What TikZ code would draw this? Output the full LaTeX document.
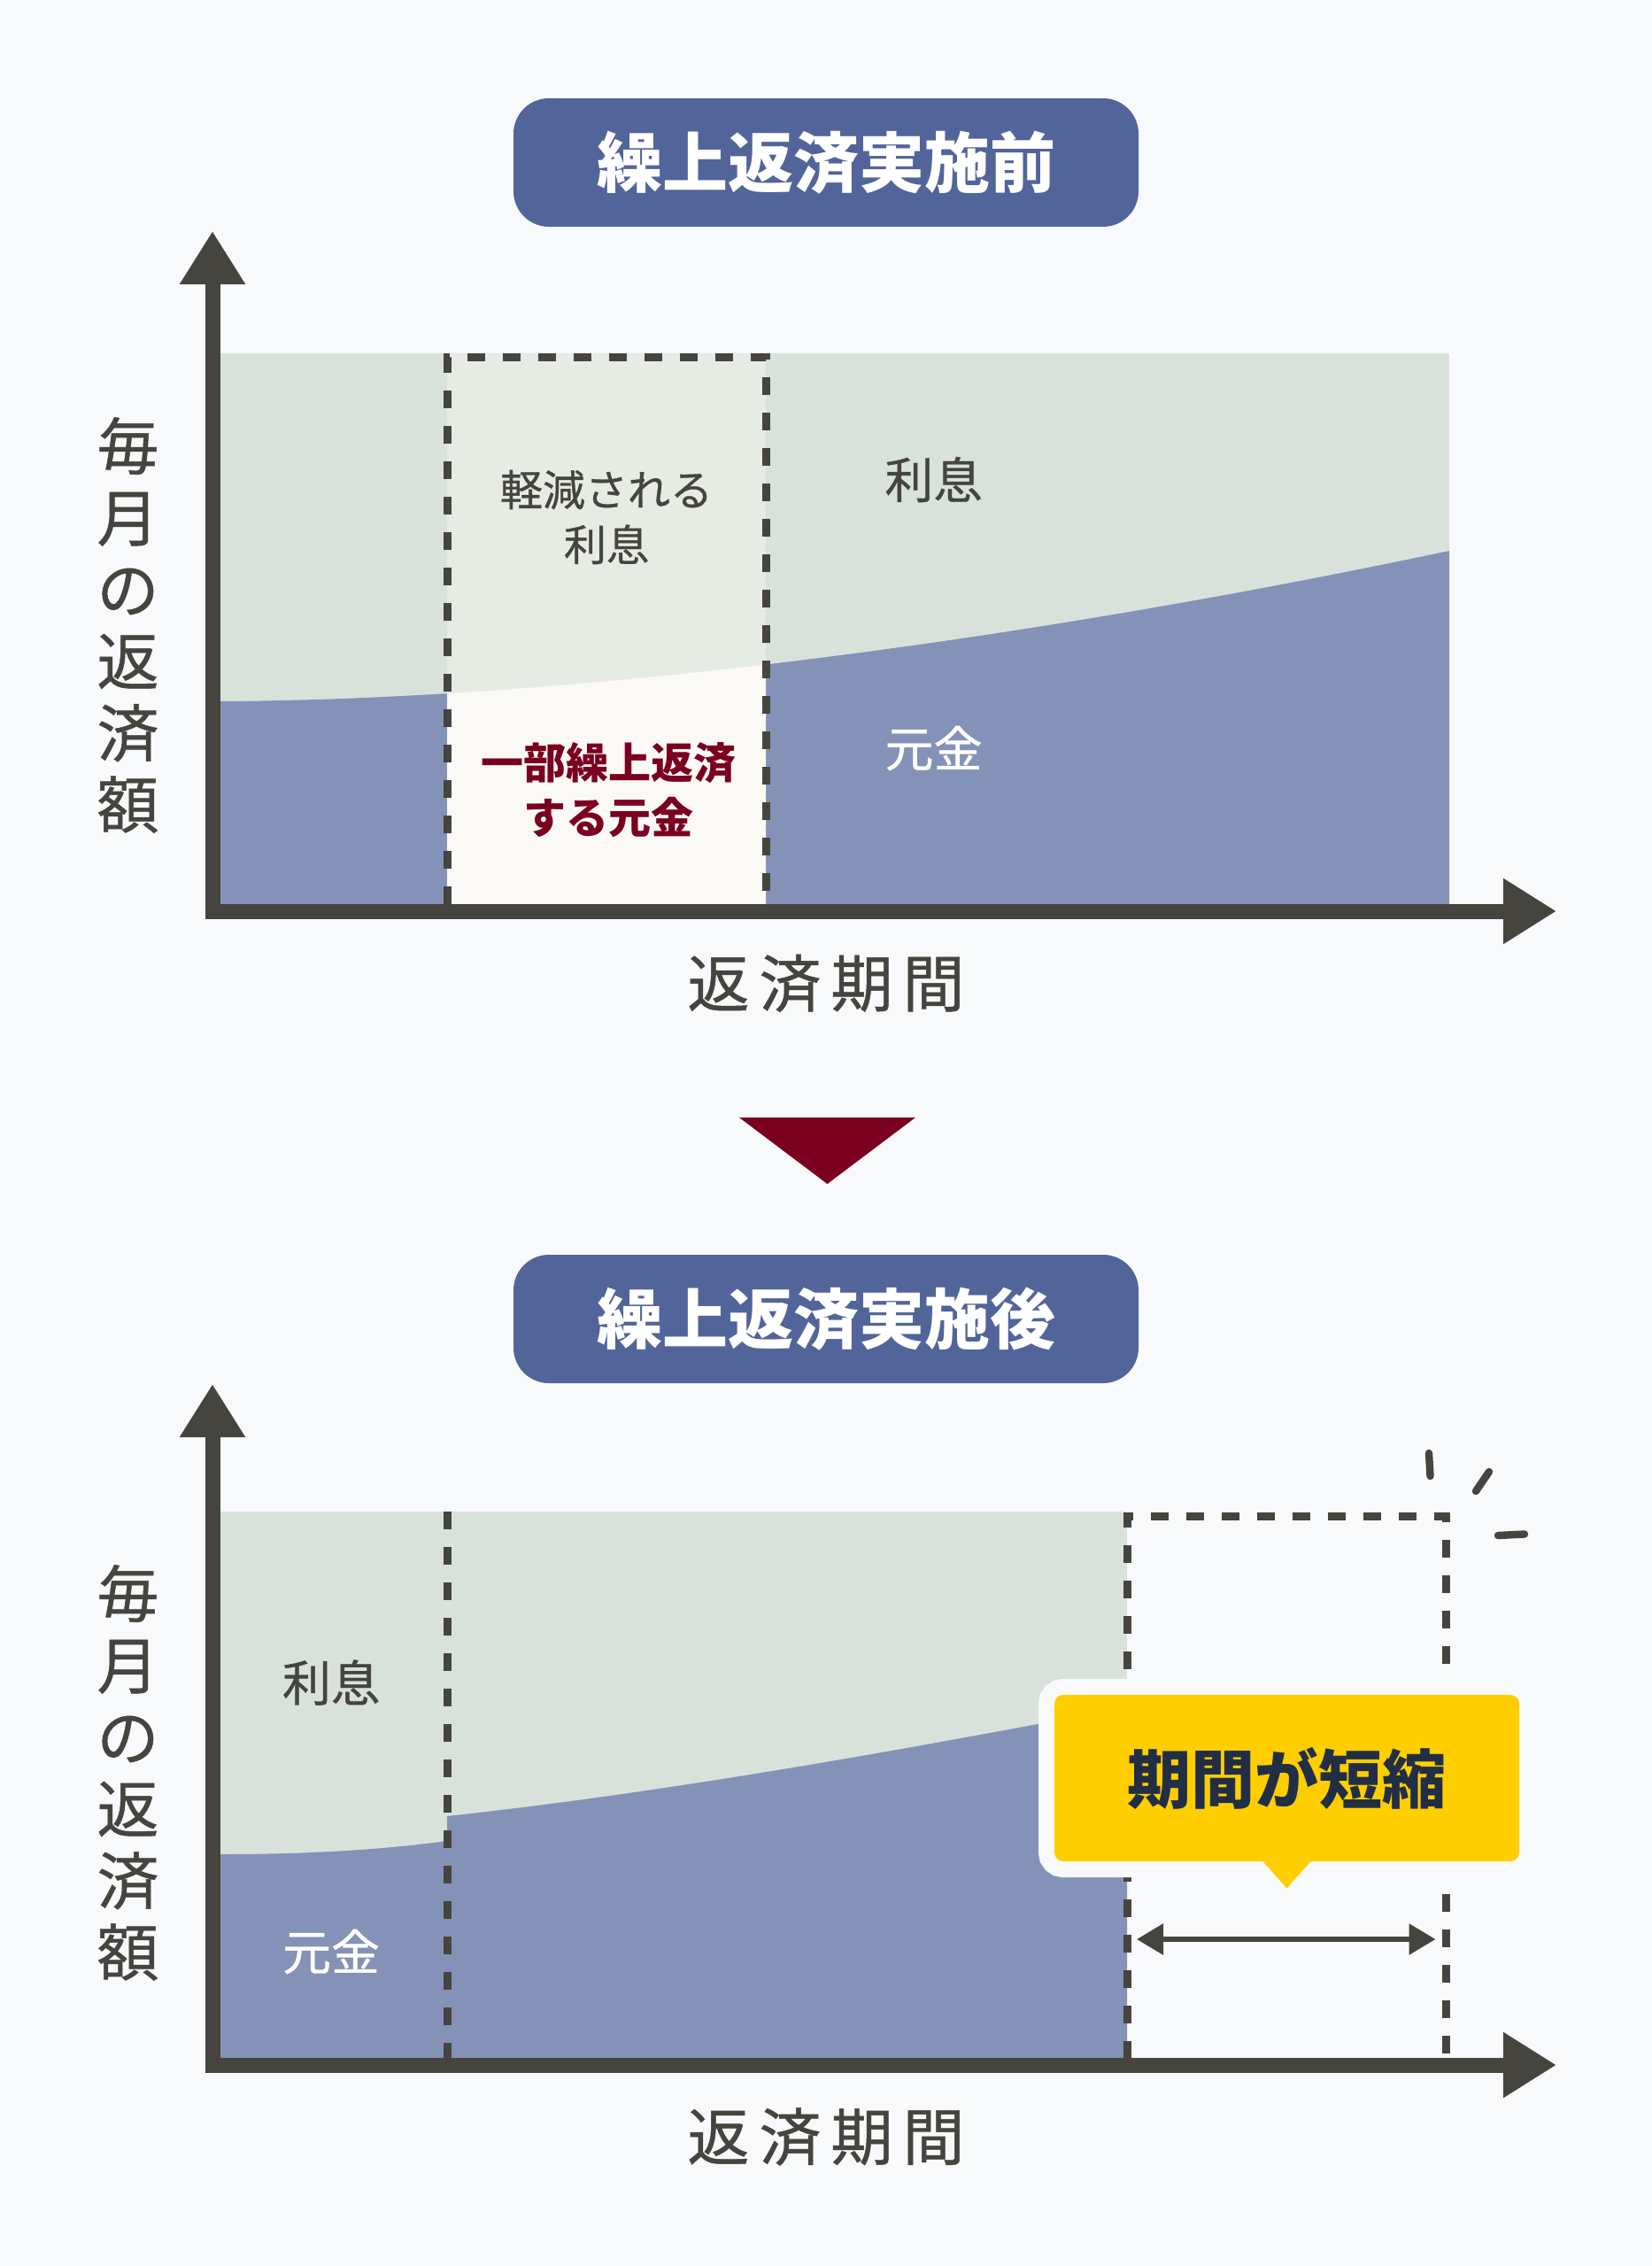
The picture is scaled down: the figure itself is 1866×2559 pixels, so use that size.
\documentclass[tikz,border=0pt]{standalone}
\usepackage{fontspec}
\setmainfont{Noto Sans CJK JP}
\newfontfamily\medfont{Noto Sans CJK JP}[FakeBold=0.7]
\usetikzlibrary{positioning, arrows.meta, calc}
\definecolor{pagebg}{HTML}{F7F9FA}
\definecolor{intfill}{HTML}{D8E2DB}
\definecolor{intlight}{HTML}{E6EBE4}
\definecolor{prinfill}{HTML}{8592B7}
\definecolor{paidfill}{HTML}{FAF9F5}
\definecolor{axisdark}{HTML}{45443E}
\definecolor{titlefill}{HTML}{52659A}
\definecolor{paidred}{HTML}{7B0020}
\definecolor{calloutfill}{HTML}{FFCE00}
\definecolor{callouttext}{HTML}{222E45}
\tikzset{
  titlebox/.style={
    fill=titlefill,
    rounded corners=20pt,
    minimum width=353pt,
    minimum height=72.5pt,
    inner sep=0pt,
    text=white,
    font=\fontsize{37}{40}\selectfont\bfseries
  },
  axisline/.style={draw=axisdark, line width=8.5pt, line join=miter,
    {Triangle[length=30pt, width=35pt]}-{Triangle[length=30pt, width=35pt]}},
  cutline/.style={draw=axisdark, line width=4.5pt, dash pattern=on 10pt off 10pt},
  axislbl/.style={text=axisdark, inner sep=0pt, font=\medfont\fontsize{35}{40.5}\selectfont},
  arealbl/.style={inner sep=0pt, font=\medfont\fontsize{27.5}{32}\selectfont},
  innerlbl/.style={inner sep=0pt, align=center, font=\medfont\fontsize{24}{31}\selectfont},
  callout/.style={
    fill=calloutfill,
    preaction={draw=pagebg, line width=18pt},
    rounded corners=5pt,
    minimum width=262.5pt,
    minimum height=94pt,
    inner sep=0pt,
    text=callouttext,
    font=\fontsize{36}{40}\selectfont\bfseries
  },
  span/.style={draw=axisdark, line width=3pt,
    {Triangle[length=15pt, width=17pt]}-{Triangle[length=15pt, width=17pt]}},
  spark/.style={draw=axisdark, line width=4.2pt, line cap=round}
}

\begin{document}
\begin{tikzpicture}[x=0.5pt, y=-0.5pt]

  \fill[pagebg] (0,0) rectangle (1866,2559);
  \useasboundingbox (0,0) rectangle (1866,2559);

  % before prepayment
  \node[titlebox] (before) at (933,183.5) {繰上返済実施前};

  \fill[intfill] (240,399) rectangle (1637,1029);
  \fill[prinfill] (240,792) -- (248,792) .. controls (650,790) and (1150,725) .. (1637,622)
    -- (1637,1029) -- (240,1029) -- cycle;
  \begin{scope}
    \clip (505,399) rectangle (865,1029);
    \fill[intlight] (505,399) rectangle (865,1029);
    \fill[paidfill] (248,792) .. controls (650,790) and (1150,725) .. (1637,622)
      -- (1637,1029) -- (248,1029) -- cycle;
  \end{scope}
  \draw[cutline] (505,1021) -- (505,403.5) -- (865,403.5) -- (865,1021);

  \coordinate (ytipA) at (240,261);
  \coordinate (xtipA) at (1758,1029);
  \draw[axisline] (ytipA) |- (xtipA);

  \node[innerlbl, text=axisdark] (cutint) at (685,584) {軽減される\\利息};
  \node[innerlbl, text=paidred, font=\fontsize{24}{31}\selectfont\bfseries] (cutprin) at (687,892.5) {一部繰上返済\\する元金};
  \node[arealbl, text=axisdark] (intA) at (1054.5,541.5) {利息};
  \node[arealbl, text=white] (prinA) at (1054.5,845) {元金};

  \node[axislbl, align=center] (ylblA) at (144.5,706) {毎\\月\\の\\返\\済\\額};
  \node[axislbl] (xlblA) at (933,1110.5) {返\hspace{5.5pt}済\hspace{5.5pt}期\hspace{5.5pt}間};

  \fill[paidred] (835,1262) -- (1034,1262) -- (934.5,1337) -- cycle;

  % after prepayment
  \node[titlebox] (after) at (933,1489.5) {繰上返済実施後};

  \fill[intfill] (240,1707) rectangle (1273,2332);
  \fill[prinfill] (240,2094) -- (248,2094) .. controls (350,2094) and (430,2089) .. (505,2079)
    -- (505,2051) .. controls (761,2023) and (1017,1976.6) .. (1273,1928)
    -- (1273,2332) -- (240,2332) -- cycle;
  \draw[cutline] (505,1707) -- (505,2325);
  \draw[cutline] (1273,2325) -- (1273,1712) -- (1633,1712) -- (1633,2325);

  \coordinate (ytipB) at (240,1563);
  \coordinate (xtipB) at (1758,2332);
  \draw[axisline] (ytipB) |- (xtipB);

  \node[arealbl, text=axisdark] (intB) at (374,1900) {利息};
  \node[arealbl, text=white] (prinB) at (374,2204) {元金};

  \node[axislbl, align=center] (ylblB) at (144.5,2002) {毎\\月\\の\\返\\済\\額};
  \node[axislbl] (xlblB) at (933,2413) {返\hspace{5.5pt}済\hspace{5.5pt}期\hspace{5.5pt}間};

  \node[callout] (shorter) at (1453.5,2008) {期間が短縮};
  \fill[calloutfill] ([xshift=-14.25pt, yshift=1pt]shorter.south) -- ([yshift=-15pt]shorter.south)
    -- ([xshift=14.25pt, yshift=1pt]shorter.south) -- cycle;

  \coordinate (spanL) at (1284,2190);
  \coordinate (spanR) at (1621.5,2190);
  \draw[span] (spanL) -- (spanR);

  \draw[spark] (1614,1641) -- (1615.5,1667);
  \draw[spark] (1682,1662) -- (1667,1684);
  \draw[spark] (1692,1734) -- (1722,1732.5);

\end{tikzpicture}
\end{document}
